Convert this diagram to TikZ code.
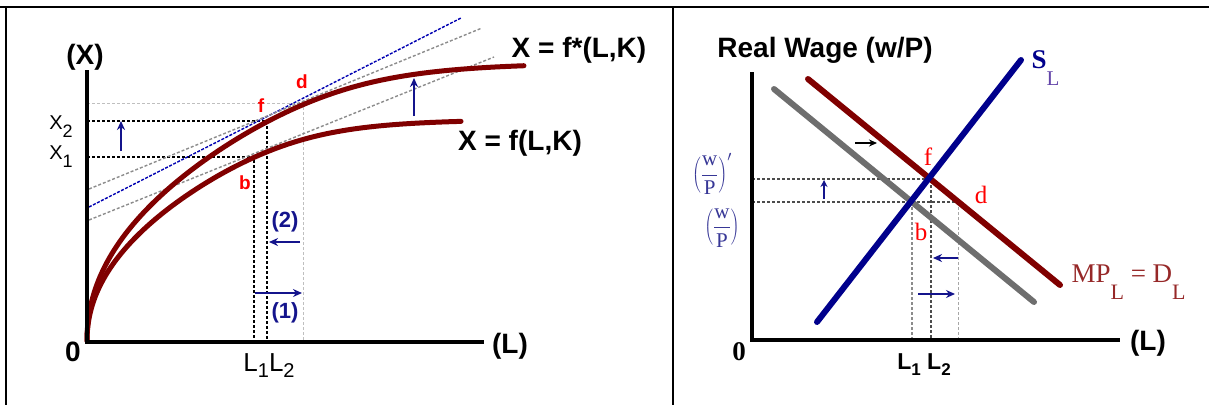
\RequirePackage{fix-cm}
\documentclass[tikz,border=0pt]{standalone}
\usepackage{fontspec}
\setmainfont{Liberation Sans}
\newfontfamily\tms{Liberation Serif}
\usetikzlibrary{arrows.meta,positioning}
\definecolor{crvred}{RGB}{128,0,0}
\definecolor{slblue}{RGB}{0,0,140}
\definecolor{arrblue}{RGB}{20,20,140}
\definecolor{ptred}{RGB}{255,0,0}
\definecolor{wpblue}{RGB}{55,55,150}
\definecolor{slpurple}{RGB}{100,70,170}
\definecolor{mpred}{RGB}{150,40,40}
\definecolor{oldgray}{RGB}{110,110,110}
\newcommand{\fsz}[1]{\fontsize{#1}{#1}\selectfont}
\newcommand{\lowsub}[3]{\raisebox{-#1}{\fsz{#2}#3}}

\begin{document}
\begin{tikzpicture}[
  x=1pt, y=-1pt,
  font=\fsz{28}\bfseries,
  ax/.style={line width=4pt},
  crv/.style={line width=5pt, crvred, line cap=round},
  ln/.style={line width=6pt, line cap=round},
  guide/.style={dash pattern=on 3pt off 2pt, line width=1.4pt},
  faint/.style={dash pattern=on 3pt off 2pt, line width=1pt, black!25},
  tang/.style={dash pattern=on 3pt off 2pt, line width=1.4pt, black!45},
  arr/.style={-{Stealth[length=9pt,width=8pt]}, line width=1.6pt, arrblue},
  ptlbl/.style={font=\fsz{19}\bfseries, ptred},
  ptlbr/.style={font=\tms\fsz{25}, ptred},
  wplbl/.style={text=wpblue, font=\tms\fsz{21}, inner sep=0pt}
]
\useasboundingbox (0,0) rectangle (1209,405);
\draw[line width=2.5pt] (0,7) -- (1209,7);
\draw[line width=1.5pt] (6,7) -- (6,405);
\draw[line width=1.5pt] (673,7) -- (673,405);

\coordinate (o) at (87,342);
\coordinate (ytop) at (87,70);
\coordinate (xend) at (484,342);
\coordinate (f) at (267,121);
\coordinate (b) at (254,157);
\coordinate (d) at (303,103);
\draw[faint] (o |- d) -- (d) -- (d |- o);
\draw[guide] (o |- f) -- (f) -- (f |- o);
\draw[guide] (o |- b) -- (b) -- (b |- o);
\draw[tang, dash pattern=on 3pt off 1.5pt, blue!70!black] (89,207) -- (461,18);
\draw[tang] (89,189) -- (482,28);
\draw[tang] (89,220) -- (494,57);
\draw[crv] plot[domain=0.05:20.905, samples=90, smooth] ({87+\x*\x}, {342-19.73*(\x*\x)^0.466/(1+(\x*\x/296)^5)^0.0932});
\draw[crv] plot[domain=0.05:19.34, samples=90, smooth] ({87+\x*\x}, {342-16.8*(\x*\x)^0.471/(1+(\x*\x/242)^5)^0.0942});
\draw[ax] (ytop) -- (o) -- (xend);
\draw[arr] (121,151) -- (121,121);
\draw[arr] (414,116) -- (414,78);
\draw[arr] (300,242) -- (269,242);
\draw[arr] (255,293) -- (302,293);
\node (xlab) at (85,57) {(X)};
\node (zero) at (73,352) {0};
\node (llab) at (510,346) {(L)};
\node[font=\fsz{20}] (x2lab) at (61,127) {X\lowsub{8pt}{18}{2}};
\node[font=\fsz{20}] (x1lab) at (61,157) {X\lowsub{8pt}{18}{1}};
\node[font=\fsz{26}] (lslab) at (269,366) {L\lowsub{6pt}{20}{1}L\lowsub{6pt}{20}{2}};
\node (fstar) at (579,50) {X = f*(L,K)};
\node (fnorm) at (520,143) {X = f(L,K)};
\node[ptlbl] (flab) at (261,106) {f};
\node[ptlbl] (dlab) at (302,82) {d};
\node[ptlbl] (blab) at (245,183) {b};
\node[font=\fsz{22}\bfseries, arrblue] (two) at (285,222) {(2)};
\node[font=\fsz{22}\bfseries, arrblue] (one) at (285,313) {(1)};

\coordinate (o2) at (752,340);
\coordinate (ytop2) at (752,72);
\coordinate (xend2) at (1120,340);
\coordinate (f2) at (931,179);
\coordinate (b2) at (912,202);
\coordinate (d2) at (958,202);
\draw[guide, black!70] (o2 |- f2) -- (f2) -- (f2 |- o2);
\draw[guide, black!70] (o2 |- d2) -- (d2);
\draw[guide, black!45] (b2) -- (b2 |- o2);
\draw[faint, black!35] (d2) -- (d2 |- o2);
\draw[ln, oldgray] (774,89) -- (1034,302);
\draw[ln, crvred] (808,79) -- (1060,285);
\draw[ln, slblue] (817,322) -- (1021,60);
\draw[ax] (ytop2) -- (o2) -- (xend2);
\draw[-{Stealth[length=8pt,width=7pt]}, line width=1.4pt] (855,143) -- (877,143);
\draw[arr, -{Stealth[length=7pt,width=7pt]}] (824,199) -- (824,180);
\draw[arr] (958,258) -- (933,258);
\draw[arr] (918,294) -- (955,294);
\node (wage) at (825,50) {Real Wage (w/P)};
\node (llab2) at (1148,343) {(L)};
\node[font=\tms\fsz{27}\bfseries] (zero2) at (739,352) {0};
\node[font=\fsz{23}\bfseries] (lslab2) at (924,365) {L\lowsub{6pt}{17}{1} L\lowsub{6pt}{17}{2}};
\node[wplbl] (wp1) at (712,174) {$\displaystyle\left(\frac{\hbox{w}}{\hbox{P}}\right)'$};
\node[wplbl] (wp0) at (722,228) {$\displaystyle\left(\frac{\hbox{w}}{\hbox{P}}\right)$};
\node[anchor=base west, font=\tms\fsz{27}] (slab) at (1028,68) {\textcolor{slblue}{\textbf{S}}\lowsub{17pt}{21}{\textcolor{slpurple}{L}}};
\node[anchor=base west, font=\tms\fsz{27}, text=mpred] (mplab) at (1068,282) {MP\lowsub{17pt}{22}{L} = D\lowsub{17pt}{22}{L}};
\node[ptlbr] (flab2) at (928,157) {f};
\node[ptlbr] (dlab2) at (981,195) {d};
\node[ptlbr] (blab2) at (921,232) {b};
\end{tikzpicture}
\end{document}
